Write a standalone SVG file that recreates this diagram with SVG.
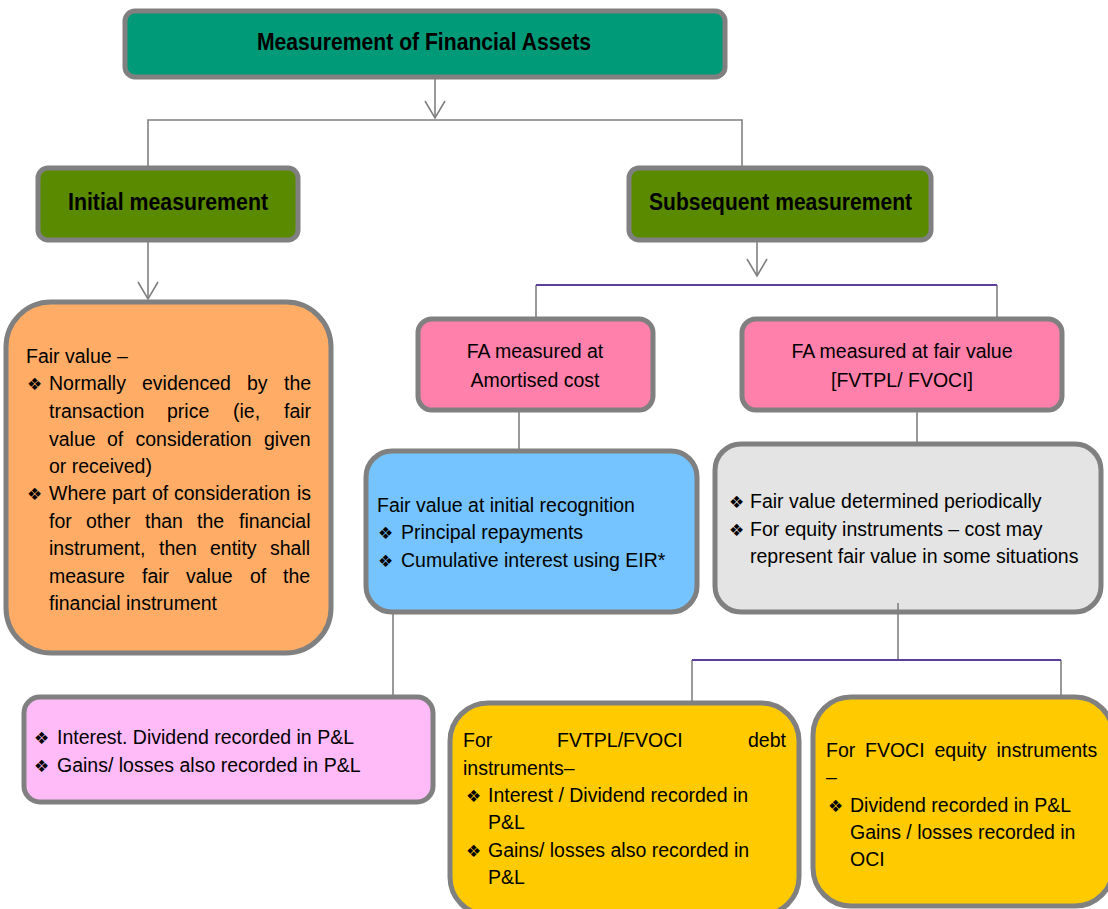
<svg xmlns="http://www.w3.org/2000/svg" width="1108" height="909" viewBox="0 0 1108 909">
<defs>
<style>
.box{stroke:#808080;stroke-width:5}
.t{font-family:"Liberation Sans",Arial,sans-serif;font-size:19.5px;fill:#000}
.h{font-family:"Liberation Sans",Arial,sans-serif;font-size:23px;font-weight:bold;fill:#000}
.b{font-family:"DejaVu Sans",sans-serif;font-size:17px}
.c{fill:none;stroke:#808080;stroke-width:1.6}
.p{fill:none;stroke:#5B3F99;stroke-width:2}
</style>
<marker id="v" markerUnits="userSpaceOnUse" markerWidth="24" markerHeight="24" refX="20" refY="12" orient="auto" viewBox="0 0 24 24">
<path d="M3,2 L20,12 L3,22" fill="none" stroke="#808080" stroke-width="1.6"/>
</marker>
</defs>
<rect width="1108" height="909" fill="#fff"/>

<g id="title">
<rect class="box" x="125" y="11" width="600" height="66" rx="10" fill="#009A78"/>
<text class="h" x="257" y="50" textLength="334" lengthAdjust="spacingAndGlyphs">Measurement of Financial Assets</text>
</g>

<g id="initial">
<rect class="box" x="38" y="168" width="260" height="72" rx="10" fill="#5A8A00"/>
<text class="h" x="68" y="210" textLength="200" lengthAdjust="spacingAndGlyphs">Initial measurement</text>
</g>

<g id="subsequent">
<rect class="box" x="629" y="168" width="302" height="72" rx="10" fill="#5A8A00"/>
<text class="h" x="649" y="210" textLength="263" lengthAdjust="spacingAndGlyphs">Subsequent measurement</text>
</g>

<g id="fairvalue-initial">
<rect class="box" x="6" y="302" width="325" height="351" rx="45" fill="#FFAD66"/>
<text class="t" y="363"><tspan x="26">Fair value –</tspan></text>
<text class="t" y="390"><tspan class="b" x="27">❖</tspan><tspan x="49">Normally</tspan><tspan x="142">evidenced</tspan><tspan x="247">by</tspan><tspan x="284">the</tspan></text>
<text class="t" y="418"><tspan x="49">transaction</tspan><tspan x="167">price</tspan><tspan x="233">(ie,</tspan><tspan x="284">fair</tspan></text>
<text class="t" y="446"><tspan x="49">value</tspan><tspan x="107">of</tspan><tspan x="135.5">consideration</tspan><tspan x="264">given</tspan></text>
<text class="t" y="473"><tspan x="49">or received)</tspan></text>
<text class="t" y="500"><tspan class="b" x="27">❖</tspan><tspan x="49">Where</tspan><tspan x="112">part</tspan><tspan x="152">of</tspan><tspan x="174">consideration</tspan><tspan x="297">is</tspan></text>
<text class="t" y="528"><tspan x="49">for</tspan><tspan x="86">other</tspan><tspan x="145">than</tspan><tspan x="197">the</tspan><tspan x="239">financial</tspan></text>
<text class="t" y="555"><tspan x="49">instrument,</tspan><tspan x="159">then</tspan><tspan x="210">entity</tspan><tspan x="270">shall</tspan></text>
<text class="t" y="583"><tspan x="49">measure</tspan><tspan x="142">fair</tspan><tspan x="186">value</tspan><tspan x="250">of</tspan><tspan x="283">the</tspan></text>
<text class="t" y="610"><tspan x="49">financial instrument</tspan></text>
</g>

<g id="amortised">
<rect class="box" x="418" y="319" width="235" height="91" rx="14" fill="#FF80AA"/>
<text class="t" x="535" y="358" text-anchor="middle">FA measured at</text>
<text class="t" x="535" y="387" text-anchor="middle">Amortised cost</text>
</g>

<g id="fairvalue">
<rect class="box" x="742" y="319" width="320" height="91" rx="14" fill="#FF80AA"/>
<text class="t" x="902" y="358" text-anchor="middle">FA measured at fair value</text>
<text class="t" x="902" y="387" text-anchor="middle">[FVTPL/ FVOCI]</text>
</g>

<g id="amortised-detail">
<rect class="box" x="366" y="451" width="331" height="161" rx="26" fill="#75C4FF"/>
<text class="t" x="377" y="512">Fair value at initial recognition</text>
<text class="t" y="539"><tspan class="b" x="378">❖</tspan><tspan x="401">Principal repayments</tspan></text>
<text class="t" y="567"><tspan class="b" x="378">❖</tspan><tspan x="401">Cumulative interest using EIR*</tspan></text>
</g>

<g id="fairvalue-detail">
<rect class="box" x="715" y="444" width="386" height="168" rx="26" fill="#E3E4E3"/>
<text class="t" y="508"><tspan class="b" x="729">❖</tspan><tspan x="750">Fair value determined periodically</tspan></text>
<text class="t" y="536"><tspan class="b" x="729">❖</tspan><tspan x="750">For equity instruments – cost may</tspan></text>
<text class="t" y="563"><tspan x="750">represent fair value in some situations</tspan></text>
</g>

<g id="amortised-pl">
<rect class="box" x="24" y="697" width="409" height="105" rx="16" fill="#FFBBF7"/>
<text class="t" y="744"><tspan class="b" x="34">❖</tspan><tspan x="57">Interest. Dividend recorded in P&amp;L</tspan></text>
<text class="t" y="772"><tspan class="b" x="34">❖</tspan><tspan x="57">Gains/ losses also recorded in P&amp;L</tspan></text>
</g>

<g id="debt">
<rect class="box" x="450" y="703" width="349" height="212" rx="38" fill="#FFCA00"/>
<text class="t" y="747"><tspan x="463">For</tspan><tspan x="557">FVTPL/FVOCI</tspan><tspan x="748">debt</tspan></text>
<text class="t" x="463" y="775">instruments–</text>
<text class="t" y="802"><tspan class="b" x="466">❖</tspan><tspan x="488">Interest / Dividend recorded in</tspan></text>
<text class="t" x="488" y="829">P&amp;L</text>
<text class="t" y="857"><tspan class="b" x="466">❖</tspan><tspan x="488">Gains/ losses also recorded in</tspan></text>
<text class="t" x="488" y="884">P&amp;L</text>
</g>

<g id="equity">
<rect class="box" x="813" y="697" width="300" height="209" rx="38" fill="#FFCA00"/>
<text class="t" y="757"><tspan x="826">For</tspan><tspan x="865">FVOCI</tspan><tspan x="934.5">equity</tspan><tspan x="996.5">instruments</tspan></text>
<text class="t" x="826" y="784">–</text>
<text class="t" y="812"><tspan class="b" x="828">❖</tspan><tspan x="850">Dividend recorded in P&amp;L</tspan></text>
<text class="t" x="850" y="839">Gains / losses recorded in</text>
<text class="t" x="850" y="866">OCI</text>
</g>

<g id="connectors">
<line class="c" x1="435" y1="79" x2="435" y2="118" marker-end="url(#v)"/>
<path class="c" d="M148,166 V120 H742 V166"/>
<line class="c" x1="148" y1="242" x2="148" y2="299" marker-end="url(#v)"/>
<line class="c" x1="757" y1="242" x2="757" y2="276" marker-end="url(#v)"/>
<line class="c" x1="536" y1="285" x2="536" y2="317"/>
<line class="c" x1="997" y1="285" x2="997" y2="317"/>
<line class="p" x1="536" y1="285" x2="997" y2="285"/>
<line class="c" x1="519" y1="412" x2="519" y2="449"/>
<line class="c" x1="917" y1="412" x2="917" y2="442"/>
<line class="c" x1="393" y1="614" x2="393" y2="695"/>
<line class="c" x1="898" y1="603" x2="898" y2="660"/>
<line class="c" x1="692" y1="660" x2="692" y2="701"/>
<line class="c" x1="1061" y1="660" x2="1061" y2="695"/>
<line class="p" x1="692" y1="660" x2="1061" y2="660"/>
</g>
</svg>
